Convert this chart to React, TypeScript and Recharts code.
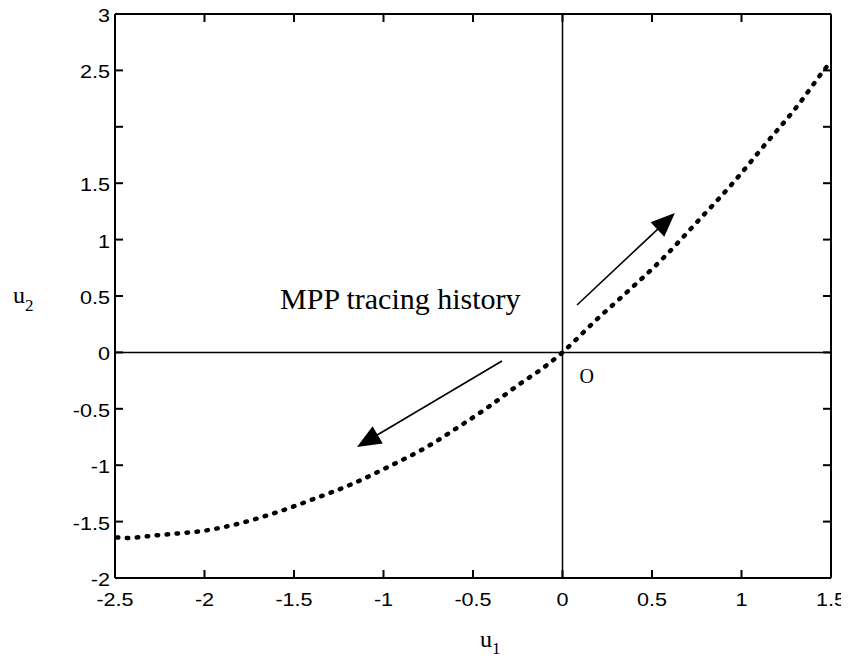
import React from 'react'
import { LineChart, Line, XAxis, YAxis, ReferenceLine, ReferenceDot } from 'recharts'

// MPP tracing path
const u1 = [
  -2.49, -2.43, -2.29, -2.15, -2.02, -1.84, -1.62, -1.39, -1.18, -0.98, -0.76, -0.58,
  -0.42, -0.23, -0.11, 0, 0.17, 0.35, 0.54, 0.76, 0.94, 1.13, 1.31, 1.46, 1.5,
]
const u2 = [
  -1.64, -1.645, -1.625, -1.605, -1.585, -1.53, -1.43, -1.3, -1.17, -1.02, -0.84, -0.66,
  -0.49, -0.27, -0.14, 0, 0.26, 0.52, 0.8, 1.17, 1.48, 1.84, 2.18, 2.5, 2.58,
]

const xTicks = [-2.5, -2, -1.5, -1, -0.5, 0, 0.5, 1, 1.5]
const yTicks = [-2, -1.5, -1, -0.5, 0, 0.5, 1, 1.5, 2, 2.5, 3]
const unlabeledY = [2]
const xDomain = [-2.5, 1.5]
const yDomain = [-2, 3]

// arrows: tail -> head, in data units
const arrowOut = [{ x: 0.081, y: 0.42 }, { x: 0.628, y: 1.236 }]
const arrowIn = [{ x: -0.338, y: -0.076 }, { x: -1.148, y: -0.839 }]

const noteText = 'MPP tracing history'
const notePos = { x: -1.578, y: 0.385 }

const data = u1.map((x, i) => ({ u1: x, u2: u2[i] }))

const SANS = 'Liberation Sans, Arial, Helvetica, sans-serif'
const SERIF = 'Liberation Serif, Times New Roman, serif'
const TICK = 8
const PLOT_H = 564
// tick length expressed along the y axis (8px of a 564px tall plot)
const vTick = ((yDomain[1] - yDomain[0]) * TICK) / PLOT_H

const BottomLabel = ({ x, y, payload }: any) => (
  <text transform={`translate(${x},${y + 28}) scale(1.2,1)`} textAnchor="middle" fontFamily={SANS} fontSize={18} fill="#000">
    {String(payload.value)}
  </text>
)

const LeftLabel = ({ x, y, payload }: any) =>
  unlabeledY.includes(payload.value) ? <g /> : (
    <text transform={`translate(${x - 5},${y + 8}) scale(1.2,1)`} textAnchor="end" fontFamily={SANS} fontSize={18} fill="#000">
      {String(payload.value)}
    </text>
  )

// inward tick marks for the left and right sides of the frame
const sideTick = (dir: number) => (p: any) => (
  <rect x={dir > 0 ? p.cx : p.cx - TICK} y={p.cy - 1} width={TICK} height={2} fill="#000" />
)

const Arrow = ({ x1, y1, x2, y2 }: any) => {
  const len = Math.hypot(x2 - x1, y2 - y1)
  const ux = (x2 - x1) / len
  const uy = (y2 - y1) / len
  const hl = 24
  const hw = 10
  const bx = x2 - ux * hl
  const by = y2 - uy * hl
  return (
    <g>
      <line x1={x1} y1={y1} x2={bx + ux * 2} y2={by + uy * 2} stroke="#000" strokeWidth={1.6} />
      <polygon points={`${x2},${y2} ${bx - uy * hw},${by + ux * hw} ${bx + uy * hw},${by - ux * hw}`} fill="#000" />
    </g>
  )
}

export default function App() {
  return (
    <div style={{ margin: '-8px 0 0 -8px', width: 849, height: 659, background: '#fff' }}>
      <LineChart width={849} height={659} data={data} margin={{ top: 13, right: 17, left: 55, bottom: 41 }}>
        <XAxis
          dataKey="u1"
          type="number"
          domain={xDomain}
          ticks={xTicks}
          interval={0}
          height={40}
          tickSize={0}
          tickMargin={0}
          tickLine={false}
          tick={<BottomLabel />}
          axisLine={{ stroke: '#000', strokeWidth: 2 }}
          label={{
            content: () => (
              <text x={480} y={647} fontFamily={SERIF} fontSize={24} fill="#000">
                u<tspan fontSize={17} dy={7}>1</tspan>
              </text>
            ),
          }}
        />
        <XAxis
          xAxisId="top"
          orientation="top"
          type="number"
          dataKey="u1"
          domain={xDomain}
          height={1}
          tick={false}
          tickLine={false}
          axisLine={{ stroke: '#000', strokeWidth: 2 }}
        />
        <YAxis
          type="number"
          domain={yDomain}
          ticks={yTicks}
          interval={0}
          width={60}
          tickSize={0}
          tickMargin={0}
          tickLine={false}
          tick={<LeftLabel />}
          axisLine={{ stroke: '#000', strokeWidth: 2 }}
          label={{
            content: () => (
              <text x={13} y={303} fontFamily={SERIF} fontSize={24} fill="#000">
                u<tspan fontSize={17} dy={8}>2</tspan>
              </text>
            ),
          }}
        />
        <YAxis
          yAxisId="right"
          orientation="right"
          type="number"
          domain={yDomain}
          width={1}
          tick={false}
          tickLine={false}
          axisLine={{ stroke: '#000', strokeWidth: 2 }}
        />
        {xTicks.map((t) => (
          <ReferenceLine
            key={`b${t}`}
            segment={[{ x: t, y: yDomain[0] }, { x: t, y: yDomain[0] + vTick }]}
            stroke="#000"
            strokeWidth={2}
            ifOverflow="visible"
          />
        ))}
        {xTicks.map((t) => (
          <ReferenceLine
            key={`t${t}`}
            segment={[{ x: t, y: yDomain[1] }, { x: t, y: yDomain[1] - vTick }]}
            stroke="#000"
            strokeWidth={2}
            ifOverflow="visible"
          />
        ))}
        {yTicks.map((t) => (
          <ReferenceDot key={`l${t}`} x={xDomain[0]} y={t} r={0} ifOverflow="visible" shape={sideTick(1)} />
        ))}
        {yTicks.map((t) => (
          <ReferenceDot key={`r${t}`} x={xDomain[1]} y={t} r={0} ifOverflow="visible" shape={sideTick(-1)} />
        ))}
        <ReferenceLine x={0} stroke="#000" strokeWidth={1.5} />
        <ReferenceLine y={0} stroke="#000" strokeWidth={1.5} />
        <ReferenceLine segment={arrowOut} shape={<Arrow />} />
        <ReferenceLine segment={arrowIn} shape={<Arrow />} />
        <ReferenceDot
          x={notePos.x}
          y={notePos.y}
          r={0}
          shape={(p: any) => (
            <text x={p.cx} y={p.cy} fontFamily={SERIF} fontSize={30} fill="#000">
              {noteText}
            </text>
          )}
        />
        <ReferenceDot
          x={0}
          y={0}
          r={0}
          shape={(p: any) => (
            <text x={p.cx + 17} y={p.cy + 31} fontFamily={SERIF} fontSize={20} fill="#000">
              O
            </text>
          )}
        />
        <Line
          dataKey="u2"
          type="monotone"
          stroke="#000"
          strokeWidth={4.5}
          strokeDasharray="1.5 8.5"
          strokeLinecap="round"
          dot={false}
          activeDot={false}
          isAnimationActive={false}
        />
      </LineChart>
    </div>
  )
}
